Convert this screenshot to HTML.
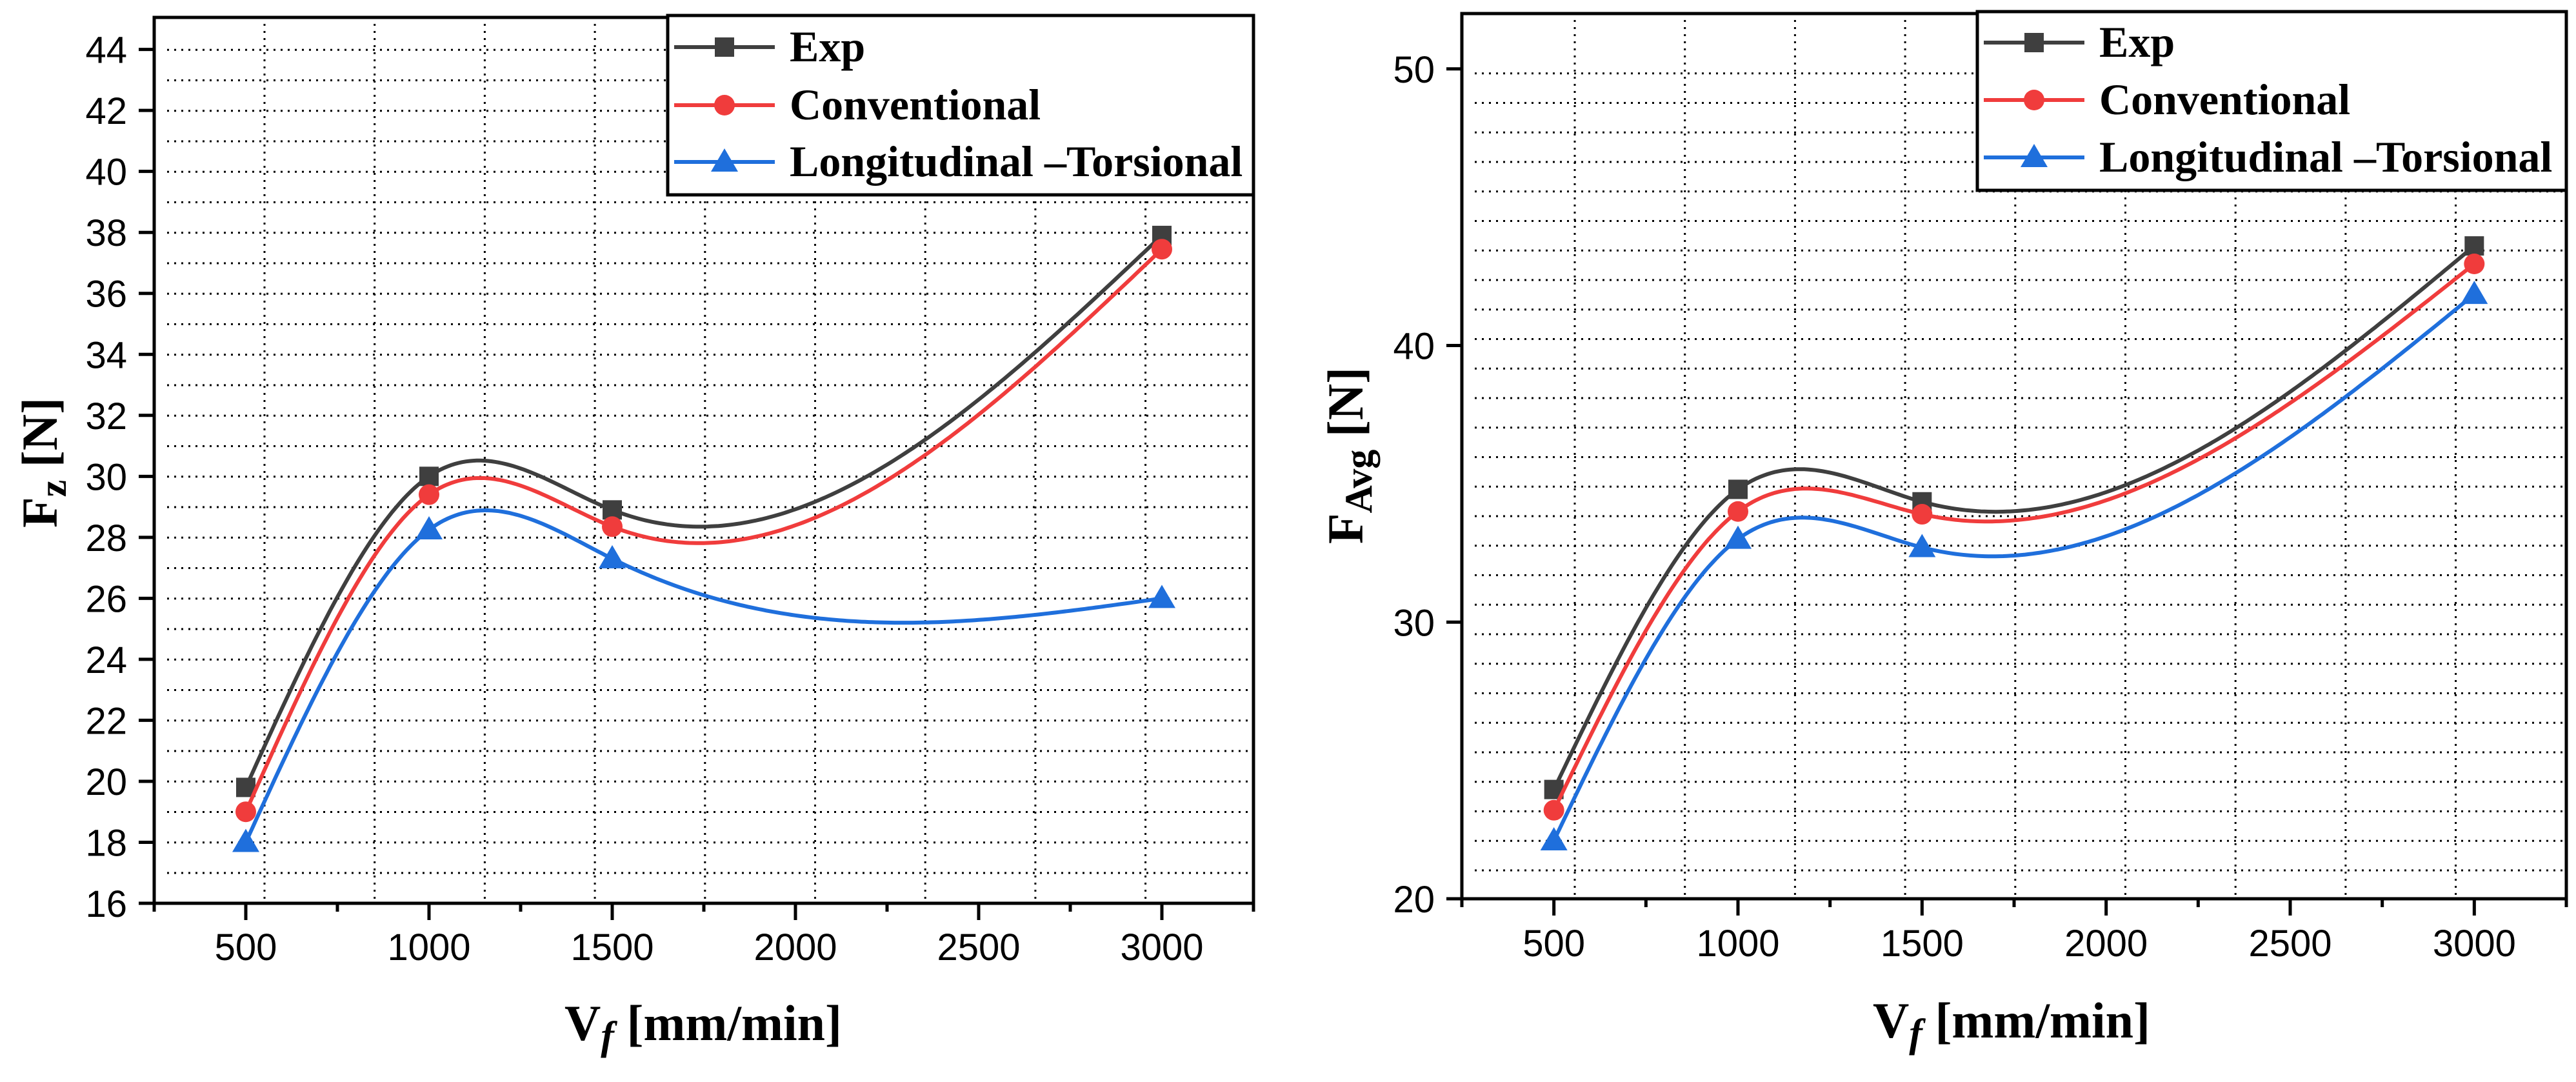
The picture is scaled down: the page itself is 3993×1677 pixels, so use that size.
<!DOCTYPE html>
<html><head><meta charset="utf-8">
<style>
html,body{margin:0;padding:0;background:#fff;}
svg{display:block;}
.tick{font-family:"Liberation Sans",Arial,sans-serif;font-size:58px;fill:#000;}
.ser{font-family:"Liberation Serif","Times New Roman",serif;font-weight:bold;fill:#000;}
</style></head>
<body>
<svg id="fig" width="3993" height="1677" viewBox="0 0 3993 1677" xmlns="http://www.w3.org/2000/svg"></svg>
<script>
// ---- data ----
const feedRates = [500, 1000, 1500, 3000];
const seriesNames = ["Exp", "Conventional", "Longitudinal \u2013Torsional"];
const fzExp = [19.8, 30.0, 28.9, 37.9];
const fzConv = [19.0, 29.4, 28.35, 37.45];
const fzLT = [18.0, 28.25, 27.3, 26.0];
const favgExp = [23.95, 34.8, 34.35, 43.6];
const favgConv = [23.2, 34.0, 33.9, 42.95];
const favgLT = [22.1, 33.0, 32.7, 41.85];
const xTickLabels = [500, 1000, 1500, 2000, 2500, 3000];
const fzTickLabels = [16,18,20,22,24,26,28,30,32,34,36,38,40,42,44];
const favgTickLabels = [20, 30, 40, 50];

const NS = "http://www.w3.org/2000/svg";
const svg = document.getElementById('fig');
function el(tag, attrs, parent){
  const e = document.createElementNS(NS, tag);
  for (const k in attrs) e.setAttribute(k, attrs[k]);
  (parent || svg).appendChild(e);
  return e;
}
function spline(xs, ys){
  const n = xs.length, h = [], a = [], l = [1], mu = [0], z = [0], c = new Array(n).fill(0), b = [], d = [];
  for (let i=0;i<n-1;i++) h.push(xs[i+1]-xs[i]);
  for (let i=1;i<n-1;i++) a[i] = 3/h[i]*(ys[i+1]-ys[i]) - 3/h[i-1]*(ys[i]-ys[i-1]);
  for (let i=1;i<n-1;i++){ l[i]=2*(xs[i+1]-xs[i-1])-h[i-1]*mu[i-1]; mu[i]=h[i]/l[i]; z[i]=(a[i]-h[i-1]*z[i-1])/l[i]; }
  c[n-1]=0;
  for (let j=n-2;j>=0;j--){ c[j] = (j>0 ? z[j]-mu[j]*c[j+1] : 0); b[j]=(ys[j+1]-ys[j])/h[j]-h[j]*(c[j+1]+2*c[j])/3; d[j]=(c[j+1]-c[j])/(3*h[j]); }
  return function(x){
    let i = n-2; for (let k=0;k<n-1;k++){ if (x<=xs[k+1]){ i=k; break; } }
    const dx = x-xs[i]; return ys[i]+b[i]*dx+c[i]*dx*dx+d[i]*dx*dx*dx;
  };
}

const colors = ["#3f3f3f", "#f03c3c", "#1f6fdc"];
const markers = ["square", "circle", "triangle"];

function drawChart(cfg){
  const g = el('g', {});  
  const X = v => cfg.L + (v - 250) / 3000 * (cfg.R - cfg.L);
  const Y = v => cfg.B - (v - cfg.ymin) / (cfg.ymax - cfg.ymin) * (cfg.B - cfg.T);
  const grid = el('g', {stroke:'#000','stroke-width':3,'stroke-dasharray':'3 8'}, g);
   
  for (let k=0;k<28;k++){ const y = cfg.gridY0 - k*cfg.gridDy; el('line',{x1:cfg.L+20,x2:cfg.R-5,y1:y,y2:y},grid); }
  for (let k=0;k<9;k++){ const x = cfg.gridX0 + k*170.7; el('line',{x1:x,x2:x,y1:cfg.T+10,y2:cfg.B-5},grid); }
  cfg.series.forEach((ys, si) => {
    const f = spline(feedRates, ys);
    let d = '';
    for (let x=feedRates[0]; x<=feedRates[feedRates.length-1]; x+=10){ d += (d?'L':'M') + X(x).toFixed(1) + ',' + Y(f(x)).toFixed(1); }
    const p = el('path', {d, fill:'none', stroke:colors[si], 'stroke-width':6}, g);
    
    
    ys.forEach((v, i) => {
      const m = drawMarker(markers[si], X(feedRates[i]), Y(v), colors[si], g);
      
      
    });
  });
  const ax = el('g', {stroke:'#000','stroke-width':5, fill:'none'}, g);
   
  el('rect',{x:cfg.L,y:cfg.T,width:cfg.R-cfg.L,height:cfg.B-cfg.T},ax);
  for (let v=250; v<=3250; v+=250){
    const major = (v % 500 === 0);
    el('line',{x1:X(v),x2:X(v),y1:cfg.B,y2:cfg.B+(major?26:13)},ax);
  }
  cfg.yTicks.forEach(v => el('line',{x1:cfg.L-24,x2:cfg.L,y1:Y(v),y2:Y(v)},ax));
  xTickLabels.forEach(v => {
    const t = el('text',{x:X(v),y:cfg.xLabBase,'text-anchor':'middle','class':'tick'},g);
    t.textContent = v;
     
  });
  cfg.yTicks.forEach(v => {
    const t = el('text',{x:cfg.L-42,y:Y(v)+21,'text-anchor':'end','class':'tick'},g);
    t.textContent = v;
     
  });
  const lg = el('g', {}, g);
   
  el('rect',{x:cfg.legX,y:cfg.legT,width:cfg.legR-cfg.legX,height:cfg.legB-cfg.legT,fill:'#fff',stroke:'#000','stroke-width':5},lg);
  seriesNames.forEach((nm, si) => {
    const y = cfg.legRows[si];
    el('line',{x1:cfg.legX+10,x2:cfg.legX+166,y1:y,y2:y,stroke:colors[si],'stroke-width':6},lg);
    drawMarker(markers[si], cfg.legX+88, y, colors[si], lg);
    const t = el('text',{x:cfg.legX+189,y:y+22,'class':'ser','font-size':68},lg);
    t.textContent = nm;
     
  });
  const xt = el('text',{x:cfg.xTitleX,y:cfg.xTitleY,'text-anchor':'middle','class':'ser','font-size':78},g);
  xt.innerHTML = 'V<tspan font-style="italic" dy="14" font-size="62">f</tspan><tspan dy="-14"> [mm/min]</tspan>';
   
  const yt = el('text',{x:0,y:0,'text-anchor':'middle','class':'ser','font-size':78,transform:`translate(${cfg.yTitleX},${cfg.yTitleY}) rotate(-90)`},g);
  yt.innerHTML = 'F<tspan dy="14" font-size="60">' + cfg.sub + '</tspan><tspan dy="-14"> [N]</tspan>';
   
}
function drawMarker(type, x, y, c, parent){
  if (type === 'square') return el('rect',{x:x-15,y:y-15,width:30,height:30,fill:c},parent);
  if (type === 'circle') return el('circle',{cx:x,cy:y,r:16,fill:c},parent);
  return el('polygon',{points:`${x},${y-21} ${x+21},${y+15} ${x-21},${y+15}`,fill:c},parent);
}

drawChart({name:'fz-chart', L:239, R:1943, T:27, B:1400, ymin:16, ymax:45.05,
  gridY0:1353, gridDy:47.25, gridX0:410, yTicks:fzTickLabels, xLabBase:1488,
  series:[fzExp, fzConv, fzLT], sub:'z',
  legX:1035, legR:1943, legT:24, legB:302, legRows:[73,163,251],
  xTitleX:1090, xTitleY:1612, yTitleX:88, yTitleY:717});
drawChart({name:'favg-chart', L:2266, R:3978, T:21, B:1393, ymin:20, ymax:52.0,
  gridY0:1349, gridDy:45.75, gridX0:2441, yTicks:favgTickLabels, xLabBase:1482,
  series:[favgExp, favgConv, favgLT], sub:'Avg',
  legX:3065, legR:3978, legT:18, legB:295, legRows:[66,155,244],
  xTitleX:3118, xTitleY:1608, yTitleX:2112, yTitleY:706});
</script>
</body></html>
